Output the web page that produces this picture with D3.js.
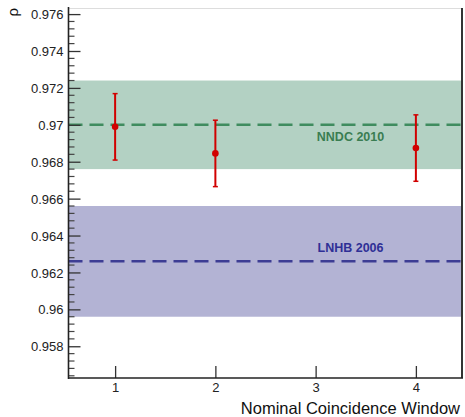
<!DOCTYPE html>
<html><head><meta charset="utf-8">
<script src="https://cdn.jsdelivr.net/npm/d3@7"></script>
<style>body{margin:0;background:#fff}svg{display:block}text{font-family:"Liberation Sans",Arial,sans-serif}</style>
</head><body>
<script>
const windows = [1, 2, 4];
const rhoValues = [0.96989, 0.96845, 0.96874];
const rhoErrors = [0.0018, 0.0018, 0.0018];
const refNames = ["NNDC 2010", "LNHB 2006"];
const refValues = [0.9700, 0.9626];
const refErrors = [0.0024, 0.0030];
const xTicks = [1, 2, 3, 4];
const yTicks = [0.958, 0.96, 0.962, 0.964, 0.966, 0.968, 0.97, 0.972, 0.974, 0.976];

const W = 465, H = 417;
const L = 68.5, R = 462, T = 8, B = 378;
const svg = d3.select("body").append("svg").attr("width", W).attr("height", H);
const x = d3.scaleLinear().domain([0.535, 4.46]).range([L, R]);
const y = d3.scaleLinear().domain([0.95628, 0.97633]).range([B, T]);

const bandFill = ["#b3d1c3", "#b3b3d4"];
const lineCol = ["#3f8c5f", "#3d3d94"];
const textCol = ["#3a7d52", "#2f2f96"];

// bands
refValues.forEach((v, i) => {
  svg.append("rect").attr("x", L).attr("width", R - L)
    .attr("y", y(v + refErrors[i])).attr("height", y(v - refErrors[i]) - y(v + refErrors[i]))
    .attr("fill", bandFill[i]);
});
refValues.forEach((v, i) => {
  svg.append("line").attr("x1", L).attr("x2", R).attr("y1", y(v)).attr("y2", y(v))
    .attr("stroke", lineCol[i]).attr("stroke-width", 2.5).attr("stroke-dasharray", "14,7");
});
svg.append("text").attr("x", 350.5).attr("y", y(refValues[0]) + 16).attr("text-anchor", "middle")
  .attr("font-weight", "bold").attr("font-size", 12.5).attr("fill", textCol[0]).text(refNames[0]);
svg.append("text").attr("x", 350.5).attr("y", y(refValues[1]) - 9).attr("text-anchor", "middle")
  .attr("font-weight", "bold").attr("font-size", 12.5).attr("fill", textCol[1]).text(refNames[1]);

// frame top/right
svg.append("line").attr("x1", L).attr("x2", R).attr("y1", T + 0.5).attr("y2", T + 0.5).attr("stroke", "#ddd").attr("stroke-width", 1);
svg.append("line").attr("x1", R).attr("x2", R).attr("y1", T).attr("y2", B).attr("stroke", "#333").attr("stroke-width", 2);

// y minor ticks
const minor = d3.range(0.9564, 0.97633, 0.0004).filter(v => Math.abs(Math.round(v / 0.002) * 0.002 - v) > 1e-6);
svg.append("g").selectAll("line").data(minor).join("line")
  .attr("x1", L).attr("x2", L + 6).attr("y1", d => y(d)).attr("y2", d => y(d))
  .attr("stroke", "#444").attr("stroke-width", 1.2);

// y axis
const yAxis = d3.axisRight(y).tickValues(yTicks).tickSize(12).tickFormat(d3.format("~g"));
const gy = svg.append("g").attr("transform", `translate(${L},0)`).call(yAxis);
gy.select(".domain").remove();
gy.selectAll(".tick line").attr("stroke", "#333").attr("stroke-width", 1.3);
gy.selectAll(".tick text").attr("x", -5).attr("text-anchor", "end").attr("font-size", 13).attr("fill", "#222").attr("dy", "0.35em");

// x axis
const xAxis = d3.axisTop(x).tickValues(xTicks).tickSize(12).tickFormat(d3.format("d"));
const gx = svg.append("g").attr("transform", `translate(0,${B})`).call(xAxis);
gx.select(".domain").remove();
gx.selectAll(".tick line").attr("stroke", "#333").attr("stroke-width", 1.3);
gx.selectAll(".tick text").attr("y", 5).attr("dy", "0.71em").attr("font-size", 13).attr("fill", "#222");

svg.append("line").attr("x1", L).attr("x2", L).attr("y1", T - 1).attr("y2", B + 1).attr("stroke", "#222").attr("stroke-width", 1.6);
svg.append("line").attr("x1", L).attr("x2", R + 1).attr("y1", B).attr("y2", B).attr("stroke", "#222").attr("stroke-width", 1.6);

// data
const red = "#d10000";
const pts = svg.append("g");
windows.forEach((w, i) => {
  const cx = x(w), lo = y(rhoValues[i] - rhoErrors[i]), hi = y(rhoValues[i] + rhoErrors[i]);
  pts.append("line").attr("x1", cx).attr("x2", cx).attr("y1", lo).attr("y2", hi).attr("stroke", red).attr("stroke-width", 2);
  pts.append("line").attr("x1", cx - 2.5).attr("x2", cx + 2.5).attr("y1", lo).attr("y2", lo).attr("stroke", red).attr("stroke-width", 1.5);
  pts.append("line").attr("x1", cx - 2.5).attr("x2", cx + 2.5).attr("y1", hi).attr("y2", hi).attr("stroke", red).attr("stroke-width", 1.5);
  pts.append("circle").attr("cx", cx).attr("cy", y(rhoValues[i])).attr("r", 3.3).attr("fill", red);
});

// titles
svg.append("text").attr("x", 460).attr("y", 414).attr("text-anchor", "end").attr("font-size", 16.5).attr("fill", "#111").text("Nominal Coincidence Window");
svg.append("text").attr("transform", `translate(18,8) rotate(-90)`).attr("text-anchor", "end").attr("font-size", 15).attr("fill", "#111").text("ρ");
</script>
</body></html>
